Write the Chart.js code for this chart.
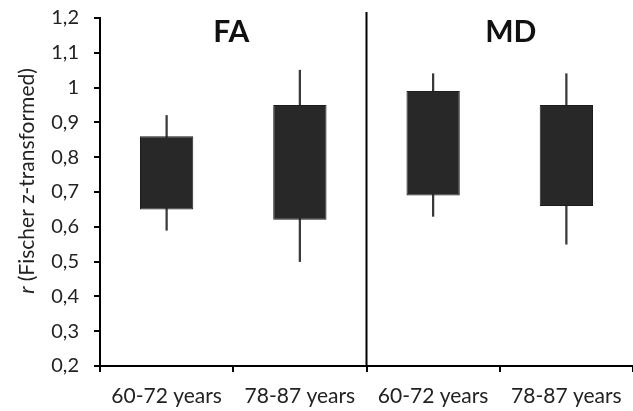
<!DOCTYPE html>
<html>
<head>
<meta charset="utf-8">
<script src="https://cdn.jsdelivr.net/npm/chart.js@4"></script>
<style>
html,body{margin:0;padding:0;background:#fff;overflow:hidden;}
#wrap{width:633px;height:411px;position:relative;}
</style>
</head>
<body>
<div id="wrap"><canvas id="c" width="633" height="411"></canvas></div>
<script>
const categories = ['60-72 years', '78-87 years', '60-72 years', '78-87 years'];
const groupTitles = ['FA', 'MD'];
const boxLow  = [0.65, 0.62, 0.69, 0.66];
const boxHigh = [0.86, 0.95, 0.99, 0.95];
const whiskerLow  = [0.59, 0.50, 0.63, 0.55];
const whiskerHigh = [0.92, 1.05, 1.04, 1.04];
const yTickLabels = ['0,2','0,3','0,4','0,5','0,6','0,7','0,8','0,9','1','1,1','1,2'];
const yAxisTitleItalic = 'r';
const yAxisTitleRest = ' (Fischer z-transformed)';

const boxes = boxLow.map((v, i) => [v, boxHigh[i]]);
const whiskers = whiskerLow.map((v, i) => [v, whiskerHigh[i]]);

const FONT = 'Lato, "Open Sans", sans-serif';

const extras = {
  id: 'extras',
  afterDraw(chart) {
    const ctx = chart.ctx;
    const x = chart.scales.x;
    const area = chart.chartArea;
    ctx.save();
    const divX = (x.getPixelForValue(1) + x.getPixelForValue(2)) / 2;
    ctx.strokeStyle = '#000';
    ctx.lineWidth = 2;
    ctx.beginPath();
    ctx.moveTo(divX, area.top - 6);
    ctx.lineTo(divX, area.bottom);
    ctx.stroke();
    ctx.fillStyle = '#111';
    ctx.font = 'bold 30px ' + FONT;
    ctx.textAlign = 'center';
    ctx.textBaseline = 'middle';
    const faX = (x.getPixelForValue(0) + x.getPixelForValue(1)) / 2 - 2;
    const mdX = (x.getPixelForValue(2) + x.getPixelForValue(3)) / 2 + 11;
    ctx.fillText(groupTitles[0], faX, area.top + 14);
    ctx.fillText(groupTitles[1], mdX, area.top + 14);
    ctx.translate(27, 181);
    ctx.rotate(-Math.PI / 2);
    ctx.fillStyle = '#222';
    ctx.textBaseline = 'middle';
    ctx.textAlign = 'left';
    ctx.font = 'italic 21px ' + FONT;
    const w1 = ctx.measureText(yAxisTitleItalic).width;
    ctx.font = '21px ' + FONT;
    const w2 = ctx.measureText(yAxisTitleRest).width;
    const start = -(w1 + w2) / 2;
    ctx.font = 'italic 21px ' + FONT;
    ctx.fillText(yAxisTitleItalic, start, 0);
    ctx.font = '21px ' + FONT;
    ctx.fillText(yAxisTitleRest, start + w1, 0);
    ctx.restore();
  }
};

new Chart(document.getElementById('c'), {
  type: 'bar',
  data: {
    labels: categories,
    datasets: [
      {
        label: 'whiskers',
        data: whiskers,
        backgroundColor: '#3a3a3a',
        borderWidth: 0,
        barThickness: 1.6,
        grouped: false,
        order: 2
      },
      {
        label: 'box',
        data: boxes,
        backgroundColor: '#282828',
        borderColor: '#1c1c1c',
        borderWidth: 1,
        borderSkipped: false,
        categoryPercentage: 0.4,
        barPercentage: 1,
        grouped: false,
        order: 1
      }
    ]
  },
  plugins: [extras],
  options: {
    responsive: false,
    animation: false,
    devicePixelRatio: 1,
    layout: { padding: { left: 0, right: 0, top: 18, bottom: 0 } },
    plugins: {
      legend: { display: false },
      tooltip: { enabled: false }
    },
    scales: {
      x: {
        offset: true,
        afterFit(axis) { axis.height = 45; axis.paddingLeft = 0; axis.paddingRight = 0; },
        grid: {
          display: true,
          offset: true,
          drawOnChartArea: false,
          drawTicks: true,
          tickLength: 6,
          color: '#000',
          lineWidth: 2
        },
        border: { display: true, color: '#000', width: 2 },
        ticks: {
          color: '#222',
          font: { family: FONT, size: 21 },
          padding: 12,
          maxRotation: 0,
          autoSkip: false
        }
      },
      y: {
        min: 0.2,
        max: 1.2,
        afterFit(axis) { axis.width = 100; axis.paddingTop = 0; axis.paddingBottom = 0; },
        afterBuildTicks(axis) {
          axis.ticks = yTickLabels.map((_, i) => ({ value: Math.round((0.2 + i * 0.1) * 10) / 10 }));
        },
        grid: {
          display: true,
          drawOnChartArea: false,
          drawTicks: true,
          tickLength: 6,
          color: '#000',
          lineWidth: 2
        },
        border: { display: true, color: '#000', width: 2 },
        ticks: {
          color: '#222',
          font: { family: FONT, size: 20 },
          padding: 15,
          callback: (v, i) => yTickLabels[i]
        }
      }
    }
  }
});
</script>
</body>
</html>
